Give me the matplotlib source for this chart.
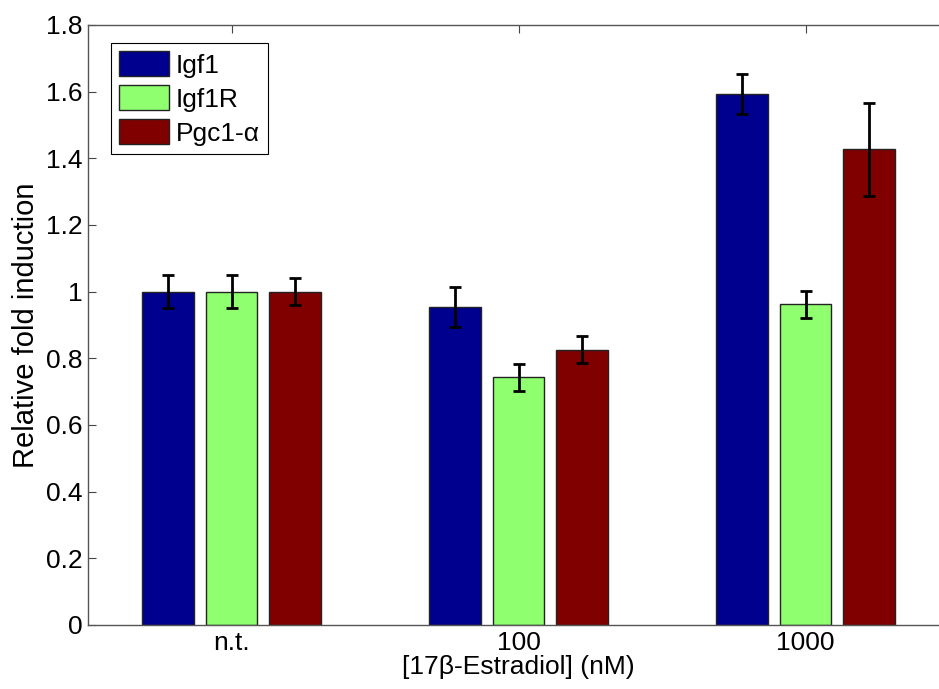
import numpy as np
import matplotlib
matplotlib.use('Agg')
import matplotlib.pyplot as plt

plt.rcParams['font.family'] = ['Liberation Sans', 'DejaVu Sans']

groups = ['n.t.', '100', '1000']
genes = ['Igf1', 'Igf1R', 'Pgc1-α']

igf1 = [1.00, 0.953, 1.592]
igf1_err = [0.05, 0.06, 0.06]
igf1r = [1.00, 0.743, 0.962]
igf1r_err = [0.05, 0.04, 0.04]
pgc1a = [1.00, 0.826, 1.427]
pgc1a_err = [0.041, 0.04, 0.14]

colors = ['#00008F', '#8FFF6F', '#800000']

fig = plt.figure(figsize=(9.39, 6.89), dpi=100)
ax = fig.add_axes([88/939, 1 - 625/689, (949 - 88)/939, 600/689])

x = np.arange(1, len(groups) + 1)
w = 0.18
step = 0.221
for i, (vals, errs) in enumerate([(igf1, igf1_err), (igf1r, igf1r_err), (pgc1a, pgc1a_err)]):
    pos = x + (i - 1) * step
    ax.bar(pos, vals, width=w, color=colors[i], edgecolor='#222222', linewidth=1.0,
           label=genes[i], zorder=2)
    ax.errorbar(pos, vals, yerr=errs, fmt='none', ecolor='black', elinewidth=2.0,
                capsize=4.5, capthick=2.0, zorder=3)

ax.set_xlim(0.5, 3.5)
ax.set_ylim(0, 1.8)
ax.set_xticks(x)
ax.set_xticklabels(groups)
ax.set_yticks(np.arange(0, 1.81, 0.2))
ax.set_yticklabels(['0', '0.2', '0.4', '0.6', '0.8', '1', '1.2', '1.4', '1.6', '1.8'])
ax.tick_params(direction='in', length=6, width=0.8, labelsize=19, top=True, right=True,
               color='#444444', pad=4)
for s in ax.spines.values():
    s.set_color('#555555')
    s.set_linewidth(1.0)

ax.set_xlabel('[17β-Estradiol] (nM)', fontsize=19, labelpad=0)
ax.set_ylabel('Relative fold induction', fontsize=21, labelpad=4)

leg = ax.legend(loc='upper left', bbox_to_anchor=(0.027, 0.97), fontsize=19,
                handlelength=1.9, handleheight=1.1, handletextpad=0.25,
                labelspacing=0.28, borderpad=0.3, borderaxespad=0.0,
                fancybox=False, framealpha=1, edgecolor='black')
leg.get_frame().set_linewidth(0.8)

fig.savefig('out.png', dpi=100)
